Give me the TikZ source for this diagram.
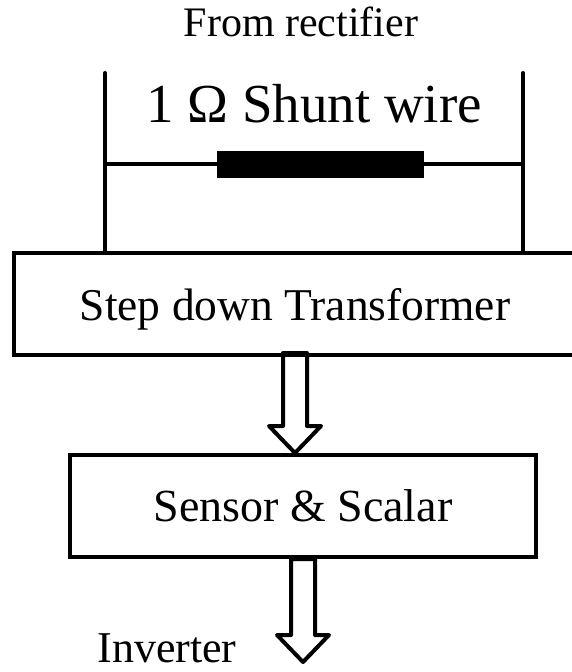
\documentclass[tikz,border=0pt]{standalone}
\usepackage{fontspec}
\setmainfont{Liberation Serif}
\usetikzlibrary{calc}

\begin{document}
\begin{tikzpicture}[
  x=1pt, y=-1pt,
  box/.style={draw, line width=4pt, inner sep=0pt, text depth=0pt, minimum height=102pt},
  wire/.style={line width=4pt, line cap=round},
  shuntbar/.style={fill=black, inner sep=0pt, minimum width=207pt, minimum height=27pt},
  lbl/.style={anchor=base, inner sep=0pt, text depth=0pt},
  fat/.style={line width=4pt, line join=round,
    to path={let \p1=(\tikztostart), \p2=(\tikztotarget) in
      (\x1-12pt,\y1) -- (\x1-12pt,\y2+27pt) -- (\x1-26pt,\y2+27pt) -- (\x2,\y2)
      -- (\x1+26pt,\y2+27pt) -- (\x1+12pt,\y2+27pt) -- (\x1+12pt,\y1) -- cycle}}
]
\useasboundingbox (0,0) rectangle (571,672);

% Texts
\node[lbl, font=\fontsize{42}{46}\selectfont] (from) at (301,36) {From rectifier};
\node[lbl, font=\fontsize{55}{60}\selectfont] (shuntlbl) at (314,122) {1 Ω Shunt wire};
\node[lbl, font=\fontsize{44}{48}\selectfont] (inv) at (167,662) {Inverter};

% Blocks
\node[box, minimum width=562pt, font=\fontsize{45.5}{50}\selectfont] (xfmr) at (295,304) {Step down Transformer};
\node[box, minimum width=466pt, font=\fontsize{46}{50}\selectfont] (sensor) at (303,506) {Sensor \& Scalar};

% Shunt wire
\coordinate (lt) at (105,73);
\coordinate (rt) at (523,73);
\node[shuntbar] (shunt) at (320.5,164) {};
\draw[wire] (lt) -- (lt |- xfmr.north);
\draw[wire] (rt) -- (rt |- xfmr.north);
\draw[line width=3.5pt] (lt |- shunt.west) -- (shunt.west);
\draw[line width=3.5pt] (shunt.east) -- (rt |- shunt.east);

% Hollow arrows
\coordinate (out) at (303,662);
\draw[fat] ([yshift=4pt]xfmr.south) to (xfmr.south |- sensor.north);
\draw[fat] (sensor.south) to (out);

\end{tikzpicture}
\end{document}
